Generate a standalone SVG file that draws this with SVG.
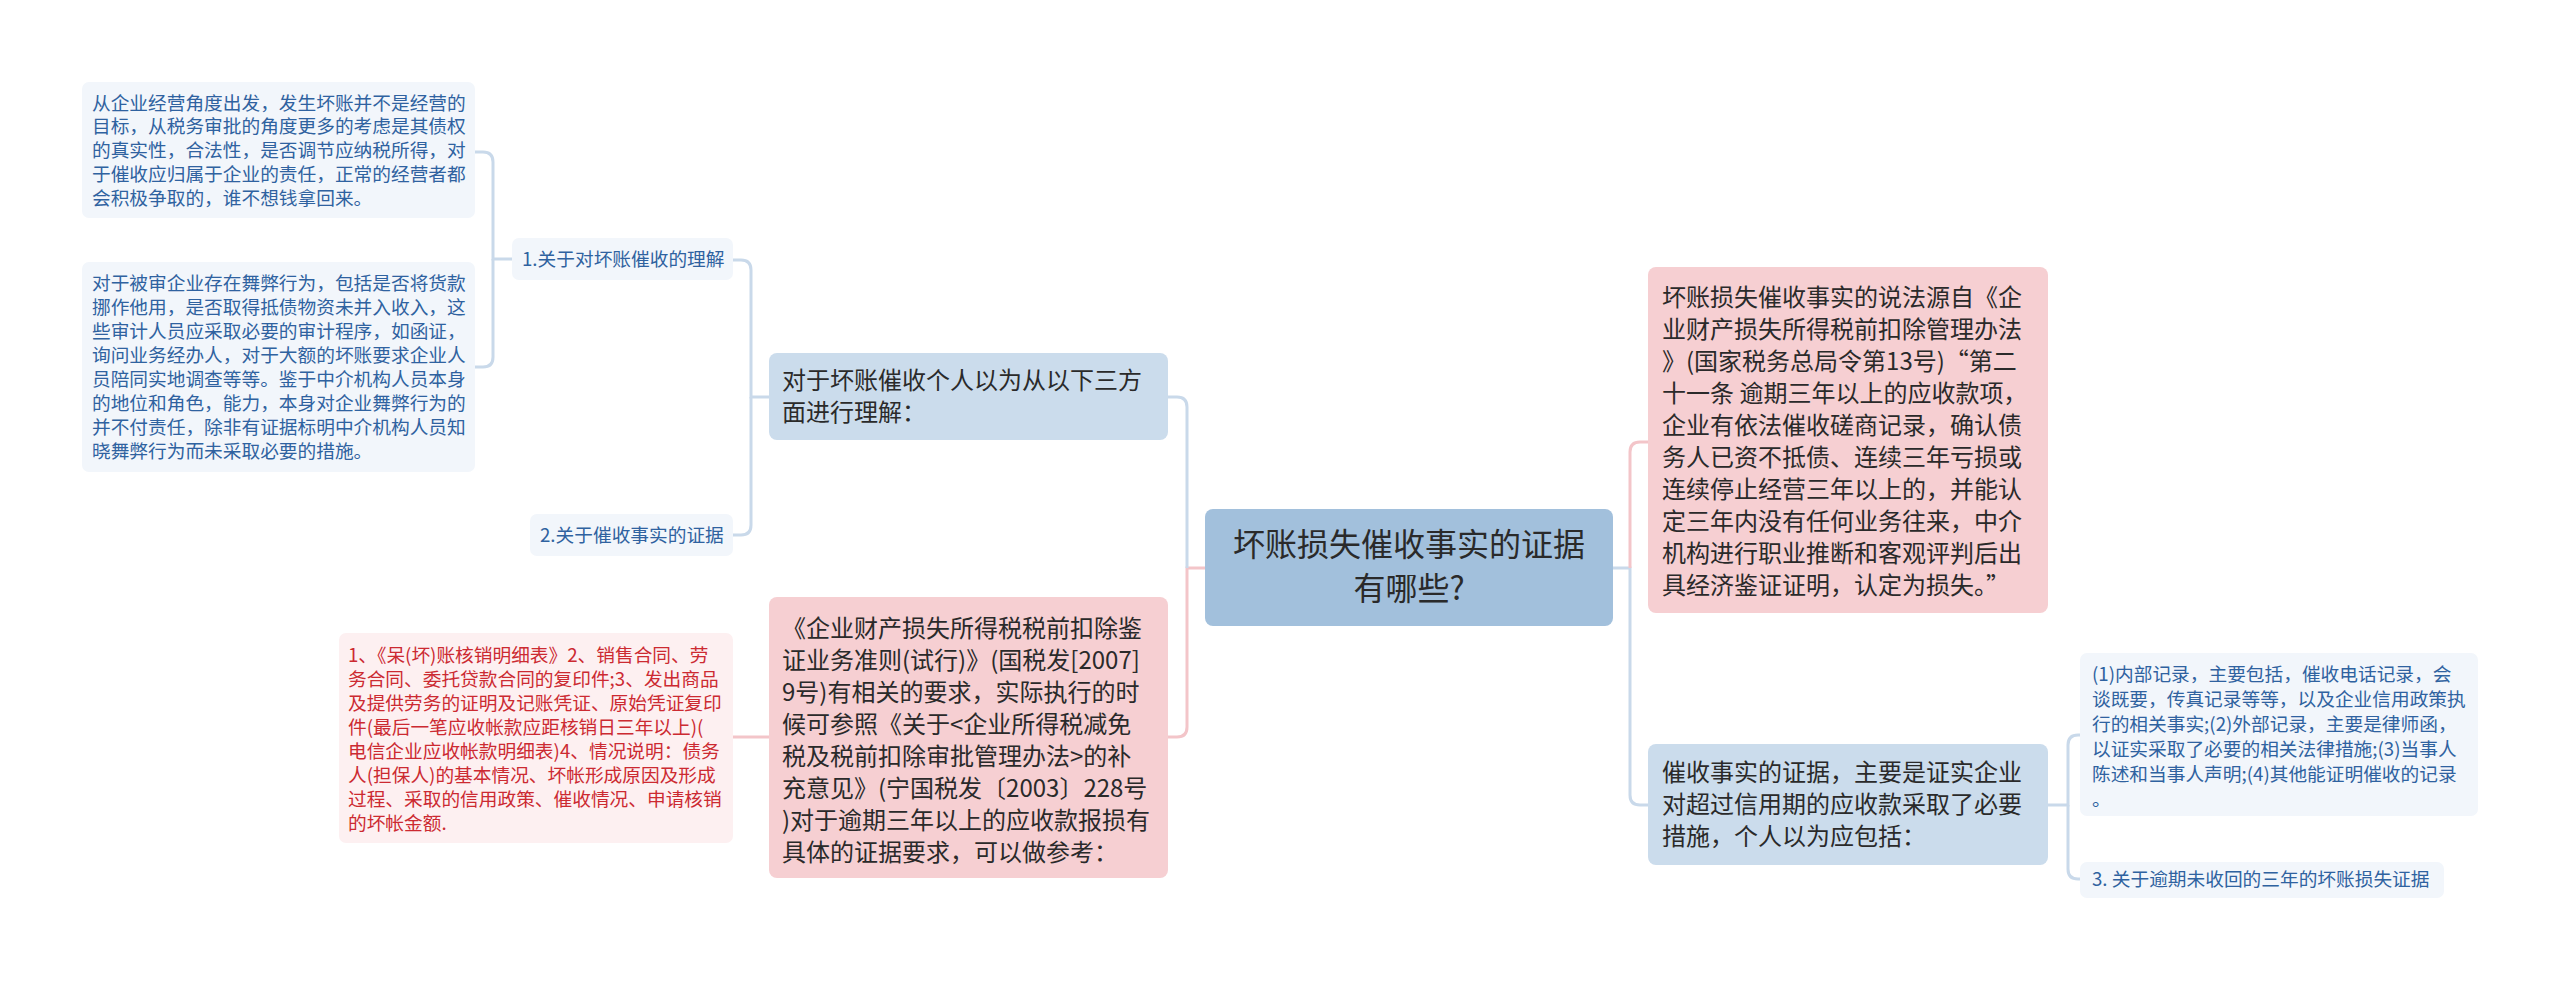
<svg xmlns="http://www.w3.org/2000/svg" width="2560" height="982" viewBox="0 0 2560 982">
<style>
text{font-family:"Noto Sans CJK SC","Noto Sans",sans-serif;}
.root{fill:#a2c0dc;}
.blue{fill:#cbdcec;}
.pink{fill:#f6cfd2;}
.leaf{fill:#f2f6fb;}
.rleaf{fill:#fdf0f1;}
.t24{font-size:24px;fill:#2a2a2a;}
.t32{font-size:32px;fill:#2a2a2a;}
.tb{font-size:18.7px;fill:#2f62a0;}
.tr{font-size:18.7px;fill:#cc2a31;}
.cb{fill:none;stroke:#c9d9ea;stroke-width:3;}
.cp{fill:none;stroke:#f3c5c9;stroke-width:3;}
</style>
<rect width="2560" height="982" fill="#ffffff"/>
<g id="connectors">
<path class="cp" d="M1205,568 H1187 V727 Q1187,737 1177,737 H1168"/>
<path class="cb" d="M1187,568 V407 Q1187,397 1177,397 H1168"/>
<path class="cb" d="M1613,568 H1630 V795 Q1630,805 1640,805 H1648"/>
<path class="cp" d="M1630,568 V452 Q1630,442 1640,442 H1648"/>
<path class="cb" d="M769,397 H751 V270 Q751,260 741,260 H733"/>
<path class="cb" d="M751,397 V525 Q751,535 741,535 H733"/>
<path class="cb" d="M512,259 H493 V162 Q493,152 483,152 H475"/>
<path class="cb" d="M493,259 V357 Q493,367 483,367 H475"/>
<path class="cp" d="M769,737 H733"/>
<path class="cb" d="M2048,805 H2068 V745 Q2068,735 2078,735 H2080"/>
<path class="cb" d="M2068,805 V869 Q2068,879 2078,879 H2080"/>
</g>
<g id="root">
<rect class="root" x="1205" y="509" width="408" height="117" rx="8"/>
<text class="t32" text-anchor="middle"><tspan x="1409" y="556">坏账损失催收事实的证据</tspan><tspan x="1409" y="600">有哪些?</tspan></text>
</g>
<g id="n-understand">
<rect class="blue" x="769" y="353" width="399" height="87" rx="8"/>
<text class="t24"><tspan x="782" y="389">对于坏账催收个人以为从以下三方</tspan><tspan x="782" y="421">面进行理解：</tspan></text>
</g>
<g id="n-u1">
<rect class="leaf" x="512" y="238" width="221" height="42" rx="7"/>
<text class="tb" x="522" y="266">1.关于对坏账催收的理解</text>
</g>
<g id="n-u1a">
<rect class="leaf" x="82" y="82" width="393" height="136" rx="7"/>
<text class="tb"><tspan x="92" y="109.5">从企业经营角度出发，发生坏账并不是经营的</tspan><tspan x="92" y="133.3">目标，从税务审批的角度更多的考虑是其债权</tspan><tspan x="92" y="157.1">的真实性，合法性，是否调节应纳税所得，对</tspan><tspan x="92" y="180.9">于催收应归属于企业的责任，正常的经营者都</tspan><tspan x="92" y="204.7">会积极争取的，谁不想钱拿回来。</tspan></text>
</g>
<g id="n-u1b">
<rect class="leaf" x="82" y="262" width="393" height="210" rx="7"/>
<text class="tb"><tspan x="92" y="289.5">对于被审企业存在舞弊行为，包括是否将货款</tspan><tspan x="92" y="313.6">挪作他用，是否取得抵债物资未并入收入，这</tspan><tspan x="92" y="337.7">些审计人员应采取必要的审计程序，如函证，</tspan><tspan x="92" y="361.8">询问业务经办人，对于大额的坏账要求企业人</tspan><tspan x="92" y="385.9">员陪同实地调查等等。鉴于中介机构人员本身</tspan><tspan x="92" y="410">的地位和角色，能力，本身对企业舞弊行为的</tspan><tspan x="92" y="434.1">并不付责任，除非有证据标明中介机构人员知</tspan><tspan x="92" y="458.2">晓舞弊行为而未采取必要的措施。</tspan></text>
</g>
<g id="n-u2">
<rect class="leaf" x="530" y="514" width="203" height="42" rx="7"/>
<text class="tb" x="540" y="542">2.关于催收事实的证据</text>
</g>
<g id="n-rule">
<rect class="pink" x="769" y="597" width="399" height="281" rx="8"/>
<text class="t24"><tspan x="782" y="636.5">《企业财产损失所得税税前扣除鉴</tspan><tspan x="782" y="668.5">证业务准则(试行)》(国税发[2007]</tspan><tspan x="782" y="700.5">9号)有相关的要求，实际执行的时</tspan><tspan x="782" y="732.5">候可参照《关于&lt;企业所得税减免</tspan><tspan x="782" y="764.5">税及税前扣除审批管理办法&gt;的补</tspan><tspan x="782" y="796.5">充意见》(宁国税发〔2003〕228号</tspan><tspan x="782" y="828.5">)对于逾期三年以上的应收款报损有</tspan><tspan x="782" y="860.5">具体的证据要求，可以做参考：</tspan></text>
</g>
<g id="n-rule-a">
<rect class="rleaf" x="339" y="633" width="394" height="210" rx="7"/>
<text class="tr"><tspan x="348" y="661.5">1、《呆(坏)账核销明细表》2、销售合同、劳</tspan><tspan x="348" y="685.5">务合同、委托贷款合同的复印件;3、发出商品</tspan><tspan x="348" y="709.5">及提供劳务的证明及记账凭证、原始凭证复印</tspan><tspan x="348" y="733.5">件(最后一笔应收帐款应距核销日三年以上)(</tspan><tspan x="348" y="757.5">电信企业应收帐款明细表)4、情况说明：债务</tspan><tspan x="348" y="781.5">人(担保人)的基本情况、坏帐形成原因及形成</tspan><tspan x="348" y="805.5">过程、采取的信用政策、催收情况、申请核销</tspan><tspan x="348" y="829.5">的坏帐金额.</tspan></text>
</g>
<g id="n-source">
<rect class="pink" x="1648" y="267" width="400" height="346" rx="8"/>
<text class="t24"><tspan x="1662" y="305.5">坏账损失催收事实的说法源自《企</tspan><tspan x="1662" y="337.5">业财产损失所得税前扣除管理办法</tspan><tspan x="1662" y="369.5">》(国家税务总局令第13号)“第二</tspan><tspan x="1662" y="401.5">十一条 逾期三年以上的应收款项，</tspan><tspan x="1662" y="433.5">企业有依法催收磋商记录，确认债</tspan><tspan x="1662" y="465.5">务人已资不抵债、连续三年亏损或</tspan><tspan x="1662" y="497.5">连续停止经营三年以上的，并能认</tspan><tspan x="1662" y="529.5">定三年内没有任何业务往来，中介</tspan><tspan x="1662" y="561.5">机构进行职业推断和客观评判后出</tspan><tspan x="1662" y="593.5">具经济鉴证证明，认定为损失。”</tspan></text>
</g>
<g id="n-evidence">
<rect class="blue" x="1648" y="744" width="400" height="121" rx="8"/>
<text class="t24"><tspan x="1662" y="780.5">催收事实的证据，主要是证实企业</tspan><tspan x="1662" y="812.5">对超过信用期的应收款采取了必要</tspan><tspan x="1662" y="844.5">措施，个人以为应包括：</tspan></text>
</g>
<g id="n-evidence-a">
<rect class="leaf" x="2080" y="653" width="398" height="163" rx="7"/>
<text class="tb"><tspan x="2092" y="680.5">(1)内部记录，主要包括，催收电话记录，会</tspan><tspan x="2092" y="705.5">谈既要，传真记录等等，以及企业信用政策执</tspan><tspan x="2092" y="730.5">行的相关事实;(2)外部记录，主要是律师函，</tspan><tspan x="2092" y="755.5">以证实采取了必要的相关法律措施;(3)当事人</tspan><tspan x="2092" y="780.5">陈述和当事人声明;(4)其他能证明催收的记录</tspan><tspan x="2092" y="805.5">。</tspan></text>
</g>
<g id="n-evidence-b">
<rect class="leaf" x="2080" y="862" width="364" height="36" rx="7"/>
<text class="tb" x="2092" y="886">3. 关于逾期未收回的三年的坏账损失证据</text>
</g>
</svg>
